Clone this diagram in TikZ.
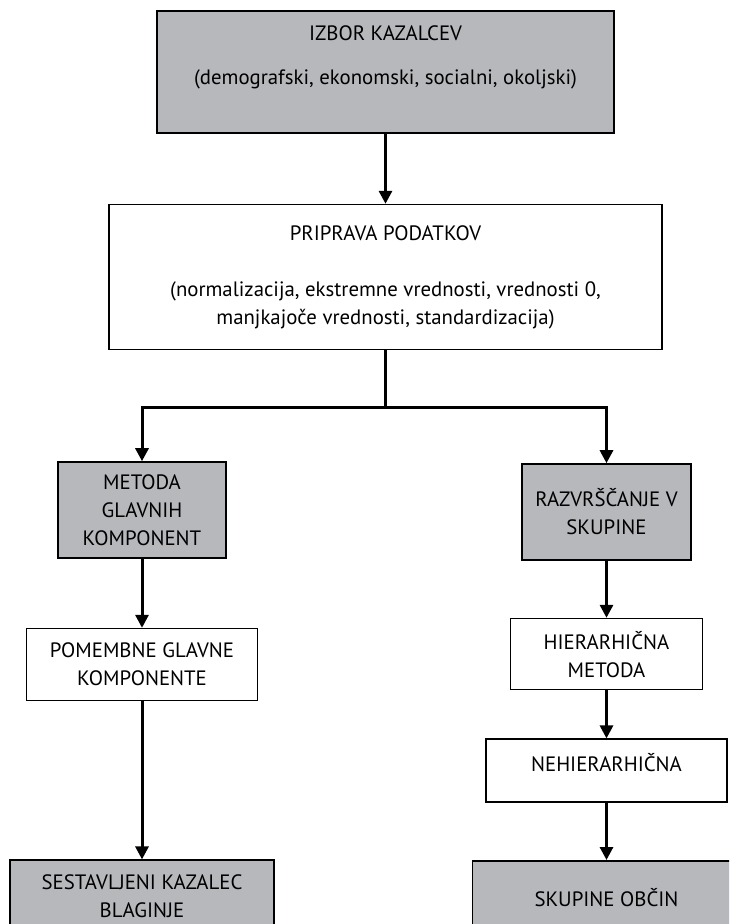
\documentclass[tikz,border=0pt]{standalone}
\usepackage{fontspec}
\setmainfont{PT Sans}
\usepackage{xcolor}
\usepackage{tikz}
\usetikzlibrary{arrows.meta,positioning,calc}
\definecolor{boxgray}{RGB}{183,184,188}

\begin{document}
\begin{tikzpicture}[
  x=1pt, y=-1pt,
  font=\fontsize{20.8}{28}\selectfont, node distance=70pt,
  box/.style={draw, line width=1.6pt, align=center, inner sep=0pt},
  graybox/.style={box, fill=boxgray},
  whitebox/.style={box, fill=white},
  arr/.style={-{Triangle[width=13pt,length=13pt]}, line width=3pt}
]
  \clip (0,0) rectangle (729,924);
  \node[graybox, minimum width=457pt, minimum height=122pt] (izbor) at (385.5,72) {IZBOR KAZALCEV\\[16pt](demografski, ekonomski, socialni, okoljski)\\[5pt]\mbox{}};
  \node[whitebox, minimum width=553pt, minimum height=145pt, below=of izbor] (priprava) {PRIPRAVA PODATKOV\\[28pt](normalizacija, ekstremne vrednosti, vrednosti 0,\\manjkajoče vrednosti, standardizacija)};

  % levo: glavne komponente
  \node[graybox, minimum width=168pt, minimum height=96pt] (metoda) at (142,510) {METODA\\GLAVNIH\\KOMPONENT};
  \node[whitebox, minimum width=231pt, minimum height=72pt, below=69pt of metoda] (pomembne) {POMEMBNE GLAVNE\\KOMPONENTE};
  \node[graybox, minimum width=264pt, minimum height=73pt, below=158pt of pomembne] (kazalec) {SESTAVLJENI KAZALEC\\BLAGINJE};

  % desno: razvrscanje
  \node[graybox, minimum width=169pt, minimum height=96pt] (razvr) at (606.5,512) {RAZVRŠČANJE V\\SKUPINE};
  \node[whitebox, minimum width=192pt, minimum height=71pt, below=57pt of razvr] (hier) {HIERARHIČNA\\METODA};
  \node[whitebox, minimum width=241pt, minimum height=63pt, text depth=17pt, below=48pt of hier] (nehier) {NEHIERARHIČNA};
  \node[graybox, minimum width=268pt, minimum height=74pt, below=57pt of nehier] (skupine) {SKUPINE OBČIN};

  \coordinate (split) at ($(priprava.south)+(0,57)$);

  \draw[arr] (izbor) -- (priprava);
  \draw[arr] (priprava.south) -- (split) -| (metoda.north);
  \draw[arr] (split) -| (razvr.north);
  \draw[arr] (metoda) -- (pomembne);
  \draw[arr] (pomembne) -- (kazalec);
  \draw[arr] (razvr) -- (hier);
  \draw[arr] (hier) -- (nehier);
  \draw[arr] (nehier) -- (skupine);
\end{tikzpicture}
\end{document}
